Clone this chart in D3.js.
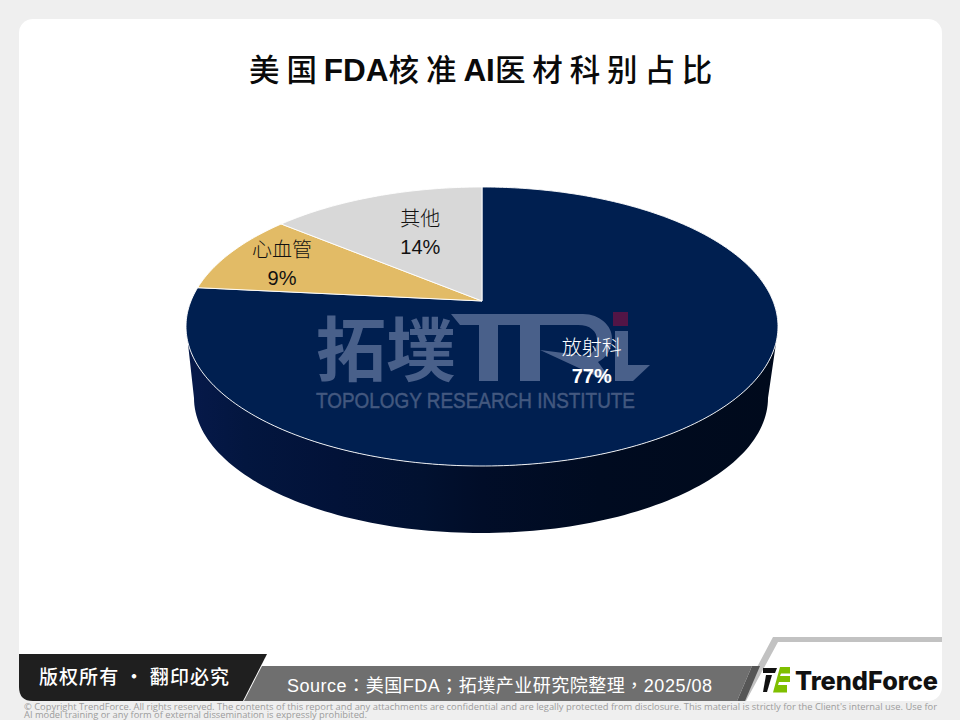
<!DOCTYPE html>
<html><head><meta charset="utf-8">
<script src="https://cdn.jsdelivr.net/npm/d3@7"></script>
<style>
html,body{margin:0;padding:0;background:#efefef;}
svg{display:block;}
text{font-family:"Liberation Sans","Noto Sans CJK TC",sans-serif;}
</style></head><body>
<svg id="c" width="960" height="720"></svg>
<script>
const categories=["放射科","心血管","其他"];
const shares=[0.766,0.094,0.14];
const sliceColors=["#001f50","#e2bb66","#d8d8d8"];
const labelColors=["#ffffff","#111111","#111111"];
const labelWeights=[700,400,400];
const labelReach=[0.54,0.786,0.61];
const labelNudgeX=[-4,0,7];
const labelNudgeY=[3,1.5,0];

const titleParts=[["美国",0],["FDA",1],["核准",0],["AI",1],["医材科别占比",0]];
const sourceText="Source：美国FDA；拓墣产业研究院整理，2025/08";
const rightsText="版权所有 · 翻印必究";
const legalLines=["© Copyright TrendForce. All rights reserved. The contents of this report and any attachments are confidential and are legally protected from disclosure. This material is strictly for the Client's internal use. Use for",
"AI model training or any form of external dissemination is expressly prohibited."];

const svg=d3.select("#c");
const defs=svg.append("defs");
svg.append("rect").attr("width",960).attr("height",720).attr("fill","#efefef");
svg.append("rect").attr("x",19).attr("y",19).attr("width",923).attr("height",682).attr("rx",14).attr("fill","#ffffff");

// title
const titleText=svg.append("text").attr("x",249).attr("y",81).attr("fill","#0a0a0a");
titleParts.forEach(([s,latin])=>{
  titleText.append("tspan").text(s)
   .attr("font-size",latin?31.5:30.5).attr("font-weight",latin?700:500)
   .attr("letter-spacing",latin?0:6.9)
   .style("font-family",latin?'"Liberation Sans"':'"Noto Sans CJK SC"');
});

// perspective disc: unit circle -> ellipse with apex off-centre
const face={cx:482,cy:326.5,rx:296,ry:139.5,k:-0.183};
const sk=Math.sqrt(1-face.k*face.k);
const xs=d3.scaleLinear().domain([-1,1]).range([face.cx-face.rx,face.cx+face.rx]);
const ys=d3.scaleLinear().domain([-1,1]).range([face.cy-face.ry,face.cy+face.ry]);
function proj(a,r){
  const u=r*Math.sin(a),v=-r*Math.cos(a),d=1+face.k*v;
  return [xs(u*sk/d),ys((v+face.k)/d)];
}
const pieData=d3.pie().sort(null).value(d=>d)(shares);
const line=d3.line();

// side wall of the front slice
const grad=defs.append("linearGradient").attr("id","side").attr("gradientUnits","userSpaceOnUse")
  .attr("x1",187).attr("x2",777).attr("y1",0).attr("y2",0);
[[0,"#06194a"],[0.1,"#03163f"],[0.25,"#021238"],[0.4,"#011130"],[0.5,"#010d28"],[0.7,"#000b20"],[1,"#000a1c"]]
  .forEach(([o,c])=>grad.append("stop").attr("offset",o).attr("stop-color",c));
const low={cx:481,cy:398,rx:287,ry:135};
const lowArc=d3.range(0,Math.PI+0.001,Math.PI/120).map(p=>[low.cx+low.rx*Math.cos(p),low.cy+low.ry*Math.sin(p)]);
const faceArc=d3.range(Math.PI-0.11,0.11-0.001,-Math.PI/120).map(p=>[face.cx+face.rx*Math.cos(p),face.cy+face.ry*Math.sin(p)]);
const tipR=[face.cx+face.rx*Math.cos(0.11),face.cy+face.ry*Math.sin(0.11)];
svg.append("path").attr("d",line([...lowArc,...faceArc,tipR])+"Z").attr("fill","url(#side)");

// top faces
svg.append("g").selectAll("path").data(pieData).join("path")
  .attr("d",d=>{
    const n=Math.max(8,Math.ceil((d.endAngle-d.startAngle)*60));
    const pts=d3.range(n+1).map(i=>proj(d.startAngle+(d.endAngle-d.startAngle)*i/n,1));
    return line([proj(0,0),...pts])+"Z";
  })
  .attr("fill",(d,i)=>sliceColors[i]).attr("stroke","#ffffff").attr("stroke-width",0.9).attr("stroke-linejoin","round");

// watermark
const wm=svg.append("g").attr("fill","#49608a");
wm.append("text").attr("x",316).attr("y",376).attr("font-size",70).attr("font-weight",700)
  .attr("textLength",140).style("font-family",'"Noto Sans CJK SC"').text("拓墣");
wm.append("text").attr("x",316).attr("y",408).attr("font-size",22.5).attr("textLength",319).attr("lengthAdjust","spacingAndGlyphs")
  .attr("fill","#43587f").attr("stroke","#43587f").attr("stroke-width",0.5).text("TOPOLOGY RESEARCH INSTITUTE");
wm.append("path").attr("d","M451,314H583C600,314 612,326 612,338C612,350 606,358 598,362L612,381H633L650,365H628V331H615V381H607L540,350L587,356C595,352 597,346 597,340C597,331 590,325 578,325H540V381H520V325H498V381H479V325H460Z");
svg.append("rect").attr("x",613).attr("y",312).attr("width",15).attr("height",14).attr("fill","#521546");

// labels
const lab=svg.append("g").attr("text-anchor","middle").selectAll("g").data(pieData).join("g")
  .attr("transform",(d,i)=>{
    const p=proj((d.startAngle+d.endAngle)/2,labelReach[i]);
    return `translate(${p[0]+labelNudgeX[i]},${p[1]+labelNudgeY[i]})`;
  });
lab.append("text").attr("y",-7).attr("font-size",20).attr("font-weight",300)
  .attr("fill",(d,i)=>labelColors[i]).style("font-family",'"Noto Sans CJK SC"').text((d,i)=>categories[i]);
lab.append("text").attr("y",21).attr("font-size",20).attr("font-weight",(d,i)=>labelWeights[i])
  .attr("fill",(d,i)=>labelColors[i]).text(d=>d3.format(".0%")(d.value));

// footer
const foot=svg.append("g");
foot.append("path").attr("d","M773,637H942V642H778L746,701H739Z").attr("fill","#c2c2c2");
foot.append("path").attr("d","M262,666H752L737,701H244Z").attr("fill","#6f6f6f");
foot.append("path").attr("d","M752,666H760L745,701H737Z").attr("fill","#565656");
foot.append("path").attr("d","M19,654H267L243,701H33Q19,701 19,687Z").attr("fill","#1f1f1f");
foot.append("text").attr("x",39).attr("y",684).attr("font-size",19).attr("font-weight",500)
  .attr("textLength",190).attr("fill","#ffffff").style("font-family",'"Noto Sans CJK SC"').text(rightsText);
foot.append("text").attr("x",287).attr("y",692).attr("font-size",18).attr("fill","#ffffff")
  .attr("textLength",425).text(sourceText);
legalLines.forEach((l,i)=>foot.append("text").attr("x",24).attr("y",710+i*8.3).attr("font-size",9.4)
  .attr("fill","#9c9c9c").attr("textLength",i?343:913).attr("lengthAdjust","spacingAndGlyphs")
  .style("font-family",'"Open Sans"').text(l));

// logo
foot.append("path").attr("d","M763,668H777L775,673H763Z").attr("fill","#111111");
foot.append("path").attr("d","M766,675H772L767,692H763Z").attr("fill","#111111");
foot.append("path").attr("d","M780,667H790V673.5H781L780,676H790V682H779L778,685H787V692.5H773Z").attr("fill","#7fbf00");
foot.append("text").attr("x",795).attr("y",690).attr("font-size",25.5).attr("font-weight",800).attr("fill","#111111")
  .attr("textLength",143).attr("lengthAdjust","spacingAndGlyphs").style("font-family",'Inter').text("TrendForce");
</script></body></html>
